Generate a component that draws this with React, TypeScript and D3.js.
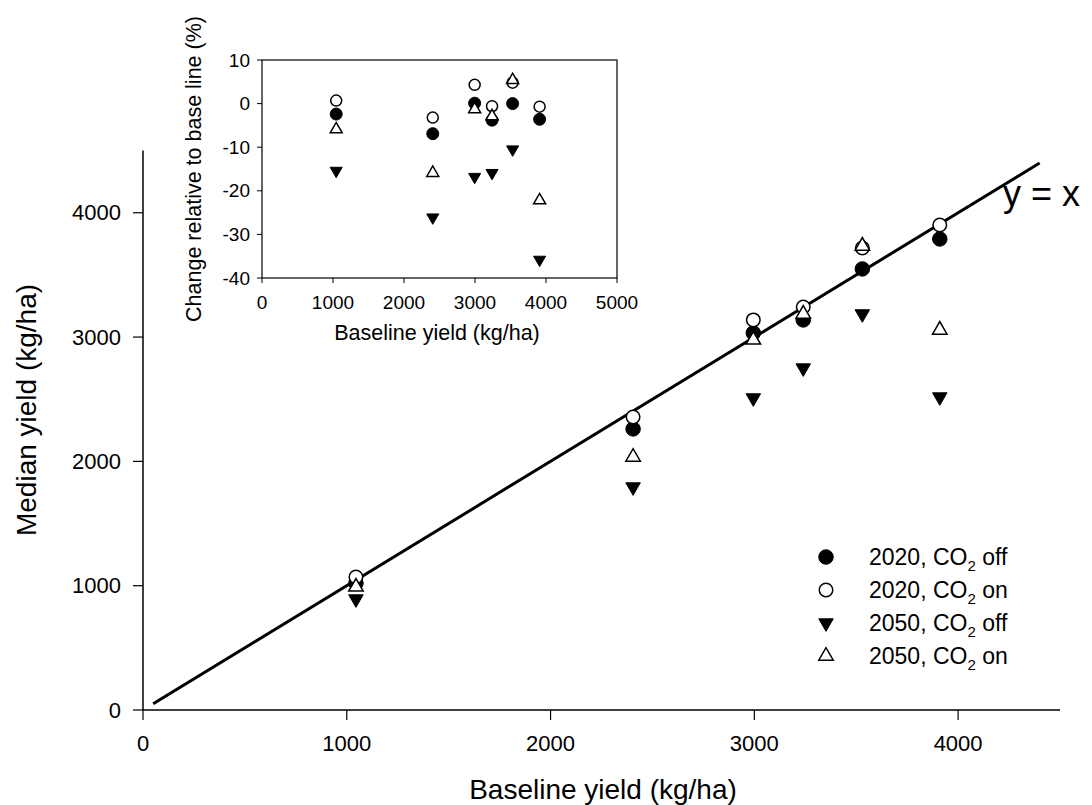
import React from "react";
import * as d3 from "d3";

const baseline = [1045, 2405, 2995, 3240, 3530, 3910];
// Main chart: median yield (kg/ha)
const off2020 = [1020, 2261, 3033, 3138, 3548, 3789];
const on2020 = [1070, 2357, 3138, 3242, 3717, 3902];
const off2050 = [893, 1794, 2510, 2751, 3186, 2518];
const on2050 = [990, 2035, 2977, 3186, 3733, 3057];
// Inset: change relative to baseline (%)
const pOff2020 = [-2.4, -6.9, 0.1, -3.8, 0, -3.6];
const pOn2020 = [0.7, -3.2, 4.3, -0.6, 4.8, -0.7];
const pOff2050 = [-15.4, -26.1, -16.8, -15.9, -10.5, -35.8];
const pOn2050 = [-5.9, -15.9, -1.3, -2.9, 5.4, -22.2];

const mainTicks = [0, 1000, 2000, 3000, 4000];
const insetXTicks = [0, 1000, 2000, 3000, 4000, 5000];
const insetYTicks = [10, 0, -10, -20, -30, -40];
const lineX = [50, 4400];

const legendItems = [
  { year: "2020", state: "off", kind: "fc" },
  { year: "2020", state: "on", kind: "oc" },
  { year: "2050", state: "off", kind: "ft" },
  { year: "2050", state: "on", kind: "ot" },
];

const FONT = "'Liberation Sans', Arial, sans-serif";

function Marker({ kind, x, y, s }: { kind: string; x: number; y: number; s: number }) {
  const r = s / 2;
  if (kind === "fc") return <circle cx={x} cy={y} r={r} fill="black" stroke="black" strokeWidth={1} />;
  if (kind === "oc") return <circle cx={x} cy={y} r={r - 0.5} fill="white" stroke="black" strokeWidth={1.5} />;
  const h = s * 0.866;
  if (kind === "ft") {
    const p = `M${x - r},${y - h / 3}L${x + r},${y - h / 3}L${x},${y + (2 * h) / 3}Z`;
    return <path d={p} fill="black" stroke="black" strokeWidth={1} />;
  }
  const p = `M${x - r},${y + h / 3}L${x + r},${y + h / 3}L${x},${y - (2 * h) / 3}Z`;
  return <path d={p} fill="white" stroke="black" strokeWidth={1.5} />;
}

export default function App() {
  const x = d3.scaleLinear().domain([0, 4500]).range([143, 1060]);
  const y = d3.scaleLinear().domain([0, 4500]).range([710, 150.6]);
  const ix = d3.scaleLinear().domain([0, 5000]).range([262, 617]);
  const iy = d3.scaleLinear().domain([-40, 10]).range([278, 60]);

  const mainSeries = [
    { kind: "fc", v: off2020 },
    { kind: "oc", v: on2020 },
    { kind: "ft", v: off2050 },
    { kind: "ot", v: on2050 },
  ];
  const insetSeries = [
    { kind: "fc", v: pOff2020 },
    { kind: "oc", v: pOn2020 },
    { kind: "ft", v: pOff2050 },
    { kind: "ot", v: pOn2050 },
  ];
  const line = d3.line<number>().x((d) => x(d)).y((d) => y(d));

  return (
    <svg
      width={1092}
      height={805}
      style={{ position: "absolute", left: 0, top: 0, background: "white" }}
      fontFamily={FONT}
    >
      <rect x={0} y={0} width={1092} height={805} fill="white" />
      {/* main axes */}
      <line x1={143} y1={y(4500)} x2={143} y2={710} stroke="black" strokeWidth={1.5} />
      <line x1={143} y1={710} x2={x(4500)} y2={710} stroke="black" strokeWidth={1.5} />
      {mainTicks.map((t) => (
        <g key={"yt" + t}>
          <line x1={133} x2={143} y1={y(t)} y2={y(t)} stroke="black" strokeWidth={1.2} />
          <text x={121} y={y(t)} dy="0.35em" textAnchor="end" fontSize={22}>
            {t}
          </text>
        </g>
      ))}
      {mainTicks.map((t) => (
        <g key={"xt" + t}>
          <line x1={x(t)} x2={x(t)} y1={710} y2={720} stroke="black" strokeWidth={1.2} />
          <text x={x(t)} y={751} textAnchor="middle" fontSize={22}>
            {t}
          </text>
        </g>
      ))}
      <text x={603} y={799} textAnchor="middle" fontSize={28}>
        Baseline yield (kg/ha)
      </text>
      <text transform="translate(36,410) rotate(-90)" textAnchor="middle" fontSize={28}>
        Median yield (kg/ha)
      </text>

      {/* y = x line */}
      <path d={line(lineX) || ""} stroke="black" strokeWidth={3} fill="none" />
      <text x={1003} y={206} fontSize={36}>
        y = x
      </text>

      {/* main markers */}
      {mainSeries.map((s) =>
        s.v.map((v, i) => <Marker key={s.kind + i} kind={s.kind} x={x(baseline[i])} y={y(v)} s={14.5} />)
      )}

      {/* legend */}
      {legendItems.map((it, i) => {
        const ly = 557 + i * 33;
        return (
          <g key={"lg" + i}>
            <Marker kind={it.kind} x={826} y={ly} s={14.5} />
            <text x={869} y={ly} dy="0.35em" fontSize={23}>
              {it.year}, CO
              <tspan dy={6} fontSize={15}>
                2
              </tspan>
              <tspan dy={-6}> {it.state}</tspan>
            </text>
          </g>
        );
      })}

      {/* inset */}
      <rect x={262} y={60} width={355} height={218} fill="white" stroke="black" strokeWidth={1.2} />
      {insetYTicks.map((t) => (
        <g key={"iy" + t}>
          <line x1={257} x2={262} y1={iy(t)} y2={iy(t)} stroke="black" strokeWidth={1} />
          <text x={250} y={iy(t)} dy="0.35em" textAnchor="end" fontSize={19}>
            {t}
          </text>
        </g>
      ))}
      {insetXTicks.map((t) => (
        <g key={"ix" + t}>
          <line x1={ix(t)} x2={ix(t)} y1={278} y2={283} stroke="black" strokeWidth={1} />
          <text x={ix(t)} y={309} textAnchor="middle" fontSize={19}>
            {t}
          </text>
        </g>
      ))}
      <text x={437} y={340} textAnchor="middle" fontSize={21.5}>
        Baseline yield (kg/ha)
      </text>
      <text transform="translate(201,169) rotate(-90)" textAnchor="middle" fontSize={21.5}>
        Change relative to base line (%)
      </text>
      {insetSeries.map((s) =>
        s.v.map((v, i) => <Marker key={"i" + s.kind + i} kind={s.kind} x={ix(baseline[i])} y={iy(v)} s={12} />)
      )}
    </svg>
  );
}
